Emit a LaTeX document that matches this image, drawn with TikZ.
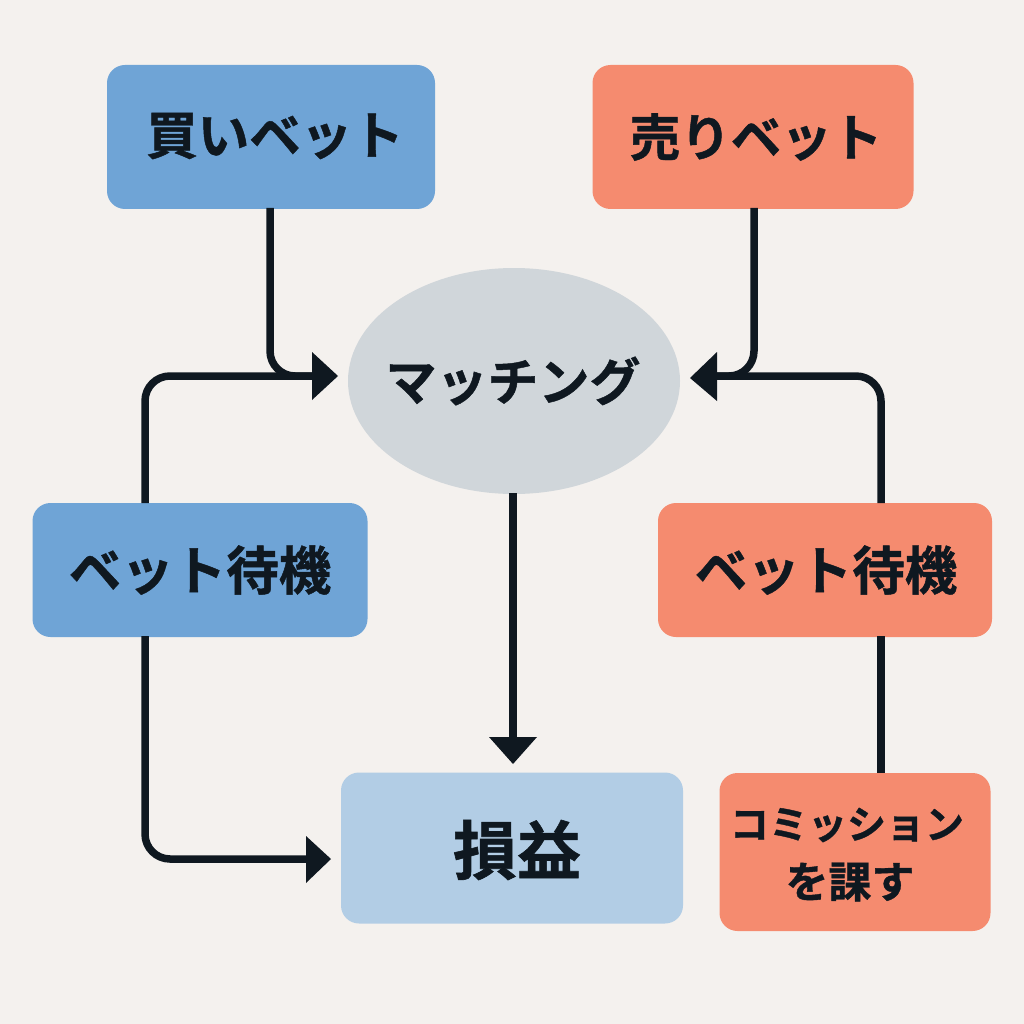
\documentclass[tikz,border=0pt]{standalone}
\usepackage{fontspec}
\newfontfamily\cjk{Noto Sans CJK JP}[BoldFont={Noto Sans CJK JP Bold},BoldFeatures={FakeBold=0.9}]
\usetikzlibrary{shapes.geometric,arrows.meta}
\definecolor{bgc}{HTML}{F4F1EE}
\definecolor{bluec}{HTML}{6FA4D6}
\definecolor{redc}{HTML}{F58B6F}
\definecolor{lightb}{HTML}{B2CDE5}
\definecolor{grayc}{HTML}{D0D6DA}
\definecolor{inkc}{HTML}{0F1820}
\tikzset{
 x=1pt,y=-1pt,
 boxs/.style={rounded corners=18pt,inner sep=0pt},
 txt/.style={inner sep=0pt,text=inkc,font=\cjk\bfseries,align=center},
 lnk/.style={draw=inkc,line width=7.5pt,rounded corners=25pt},
 tipl/.style={fill=inkc,draw=none}
}
\newcommand{\tf}[1]{\fontsize{#1}{#1}\selectfont}
\begin{document}
\begin{tikzpicture}
\useasboundingbox (0,0) rectangle (1024,1024);
\fill[bgc] (0,0) rectangle (1024,1024);
\coordinate (m1) at (314,376);
\coordinate (m2) at (716,376);
\coordinate (p1) at (306,859);
\node[boxs,fill=bluec,minimum width=328pt,minimum height=144pt] (buy) at (271,137) {};
\node[boxs,fill=redc,minimum width=321pt,minimum height=144pt] (sell) at (753,137) {};
\node[ellipse,fill=grayc,minimum width=332pt,minimum height=226pt,inner sep=0pt] (match) at (514,381) {};
\node[boxs,fill=bluec,minimum width=335pt,minimum height=134pt] (waitb) at (200,570) {};
\node[boxs,fill=redc,minimum width=334pt,minimum height=134pt] (waitr) at (825,570) {};
\node[boxs,fill=lightb,minimum width=342pt,minimum height=151pt] (pl) at (512,848) {};
\node[boxs,fill=redc,minimum width=271pt,minimum height=158pt] (comm) at (855,852) {};
\node[txt] (buyt) at (275,136) {\tf{51.5}買いベット};
\node[txt] (sellt) at (756,137) {\tf{50.5}売りベット};
\node[txt] (matcht) at (513,381) {\tf{51}マッチング};
\node[txt] (waitbt) at (200,570) {\tf{52.5}ベット待機};
\node[txt] (waitrt) at (826,570) {\tf{52.5}ベット待機};
\node[txt] (plt) at (517,850) {\tf{64}損益};
\node[txt] (commt1) at (847,825) {\tf{39}コミッション};
\node[txt] (commt2) at (850,882) {\tf{43}を課す};
\draw[lnk] (270,208) -- (270,376) -- (m1);
\draw[lnk] (145,503) -- (145,376) -- (m1);
\draw[lnk] (754,208) -- (754,376) -- (m2);
\draw[lnk] (881,503) -- (881,376) -- (m2);
\draw[lnk] (145,636) -- (145,859) -- (p1);
\draw[lnk] (881,636) -- (881,773);
\draw[draw=inkc,line width=8pt] (513,493) -- (513,740);
\fill[tipl] (338,376) -- (312,352) -- (312,400) -- cycle;
\fill[tipl] (690,378) -- (717,352) -- (717,401) -- cycle;
\fill[tipl] (513,764) -- (489,737) -- (537,737) -- cycle;
\fill[tipl] (331,859) -- (306,836) -- (306,883) -- cycle;
\end{tikzpicture}
\end{document}
